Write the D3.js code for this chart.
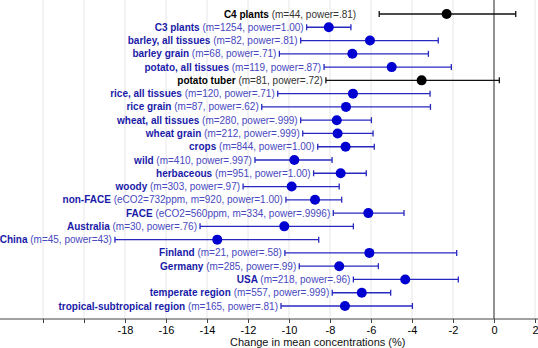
<!DOCTYPE html>
<html><head><meta charset="utf-8">
<script src="https://cdn.jsdelivr.net/npm/d3@7"></script>
<style>body{margin:0;background:#fff}svg{display:block}text{font-family:"Liberation Sans",Arial,Helvetica,sans-serif}</style>
</head><body><svg id="c" width="538" height="348"></svg>
<script>
const names = ["C4 plants","C3 plants","barley, all tissues","barley grain","potato, all tissues","potato tuber","rice, all tissues","rice grain","wheat, all tissues","wheat grain","crops","wild","herbaceous","woody","non-FACE","FACE","Australia","China","Finland","Germany","USA","temperate region","tropical-subtropical region"];
const details = ["(m=44, power=.81)","(m=1254, power=1.00)","(m=82, power=.81)","(m=68, power=.71)","(m=119, power=.87)","(m=81, power=.72)","(m=120, power=.71)","(m=87, power=.62)","(m=280, power=.999)","(m=212, power=.999)","(m=844, power=1.00)","(m=410, power=.997)","(m=951, power=1.00)","(m=303, power=.97)","(eCO2=732ppm, m=920, power=1.00)","(eCO2=560ppm, m=334, power=.9996)","(m=30, power=.76)","(m=45, power=43)","(m=21, power=.58)","(m=285, power=.99)","(m=218, power=.96)","(m=557, power=.999)","(m=165, power=.81)"];
const means = [-2.31,-8.06,-6.05,-6.91,-4.99,-3.53,-6.88,-7.22,-7.67,-7.63,-7.24,-9.74,-7.48,-9.87,-8.73,-6.13,-10.23,-13.5,-6.08,-7.55,-4.33,-6.45,-7.27];
const lows  = [-5.6,-9.14,-9.43,-10.47,-8.29,-8.2,-10.55,-11.33,-9.43,-9.33,-8.6,-11.66,-8.8,-12.24,-10.15,-7.84,-14.34,-18.49,-10.2,-9.5,-6.86,-7.89,-10.39];
const highs = [1.06,-6.98,-2.72,-3.2,-2.08,0.26,-3.12,-3.1,-5.98,-5.9,-5.84,-7.9,-6.23,-7.55,-7.43,-4.39,-6.86,-8.55,-1.82,-5.64,-1.74,-5.04,-3.98];
const tickValues = [-22,-20,-18,-16,-14,-12,-10,-8,-6,-4,-2,0,2];
const tickLabels = ["","","-18","-16","-14","-12","-10","-8","-6","-4","-2","0","2"];
const axisTitle = "Change in mean concentrations (%)";

const isBlack = names.map(n => n === "C4 plants" || n === "potato tuber");

const svg = d3.select("#c");
const x = d3.scaleLinear().domain([-24, 2]).range([2, 535]);
const y = d3.scalePoint().domain(names).range([14, 306]);
const axisY = 319;

svg.append("g").selectAll("line").data(tickValues.filter(v => v !== 0)).join("line")
  .attr("x1", d => x(d)).attr("x2", d => x(d)).attr("y1", 0).attr("y2", axisY)
  .attr("stroke", "#e6e6e6").attr("stroke-width", 1);

svg.append("line").attr("x1", x(0)).attr("x2", x(0)).attr("y1", 0).attr("y2", axisY)
  .attr("stroke", "#777").attr("stroke-width", 1.6);

const axis = d3.axisBottom(x).tickValues(tickValues).tickSize(4).tickPadding(3)
  .tickFormat((d, i) => tickLabels[i]);
const ag = svg.append("g").attr("transform", `translate(0,${axisY})`).call(axis);
ag.select(".domain").remove();
ag.append("line").attr("x1", 0).attr("x2", 538).attr("stroke", "#444");
ag.selectAll(".tick line").attr("stroke", "#444");
ag.selectAll(".tick text").attr("fill", "#000").attr("font-size", 11);

svg.append("text").attr("x", x(-8.6)).attr("y", 345.5).attr("text-anchor", "middle")
  .attr("font-size", 11).attr("fill", "#111").text(axisTitle);

const rows = names.map((n, i) => ({n, d: details[i], m: means[i], lo: lows[i], hi: highs[i], black: isBlack[i], i}));

const g = svg.append("g");
const cap = 3;
rows.forEach(r => {
  const yy = y(r.n);
  const col = r.black ? "#111" : "#2828c0";
  const dot = r.black ? "#000" : "#0000d0";
  g.append("line").attr("x1", x(r.lo)).attr("x2", x(r.hi)).attr("y1", yy).attr("y2", yy)
    .attr("stroke", col).attr("stroke-width", 1.3);
  [r.lo, r.hi].forEach(v => g.append("line").attr("x1", x(v)).attr("x2", x(v))
    .attr("y1", yy - cap).attr("y2", yy + cap).attr("stroke", col).attr("stroke-width", 1.3));
  g.append("circle").attr("cx", x(r.m)).attr("cy", yy).attr("r", 5).attr("fill", dot);
  const labelEnd = x(r.lo) - (r.i === 0 ? 23 : 3);
  const t = g.append("text").attr("x", labelEnd).attr("y", yy + 3.5).attr("text-anchor", "end")
    .attr("font-size", 10);
  t.append("tspan").attr("font-weight", "bold").attr("fill", r.black ? "#000" : "#1a1aa8").text(r.n + " ");
  t.append("tspan").attr("fill", r.black ? "#333" : "#4848c0").text(r.d);
});
</script></body></html>
